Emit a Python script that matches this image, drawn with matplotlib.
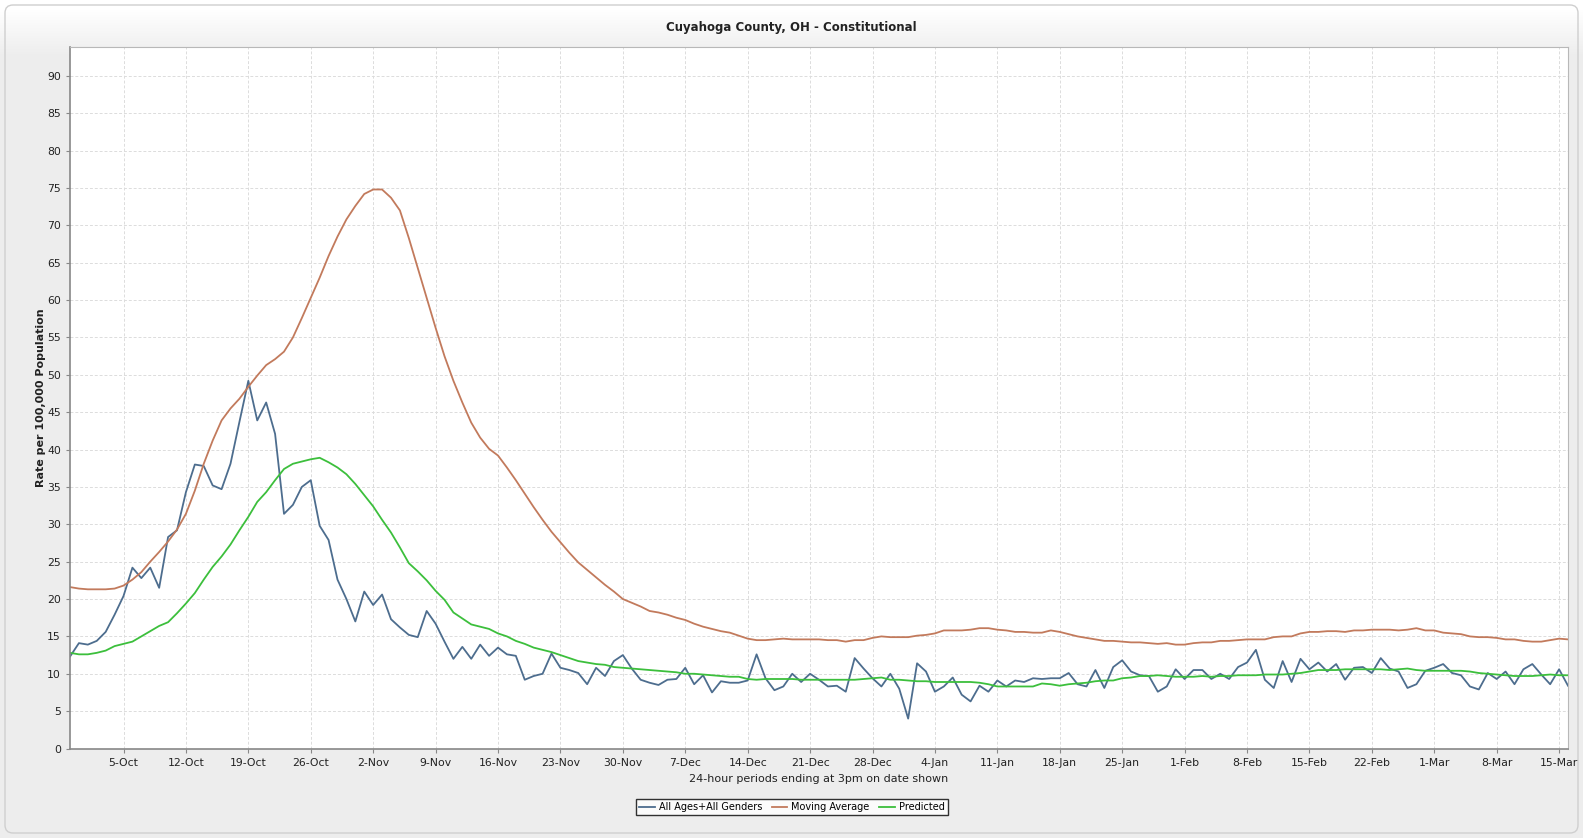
import numpy as np
import pandas as pd
import matplotlib
matplotlib.use("Agg")
import matplotlib.pyplot as plt
from matplotlib.patches import FancyBboxPatch

# daily values, 29-Sep-2020 .. 16-Mar-2021
start_date = "2020-09-29"

all_ages = [
    12.3, 14.1, 13.9, 14.4, 15.6, 17.9, 20.4, 24.2, 22.8, 24.2,
    21.5, 28.3, 29.2, 34.3, 38.0, 37.8, 35.2, 34.7, 38.1, 43.7,
    49.2, 43.9, 46.3, 42.1, 31.4, 32.6, 35.0, 35.9, 29.8, 27.9,
    22.6, 20.0, 17.0, 21.0, 19.2, 20.6, 17.3, 16.2, 15.2, 14.9,
    18.4, 16.7, 14.3, 12.0, 13.6, 12.0, 13.9, 12.4, 13.5, 12.6,
    12.4, 9.2, 9.7, 10.0, 12.7, 10.8, 10.5, 10.1, 8.6, 10.8,
    9.7, 11.7, 12.5, 10.7, 9.2, 8.8, 8.5, 9.2, 9.3, 10.8,
    8.6, 9.8, 7.5, 9.0, 8.8, 8.8, 9.1, 12.6, 9.4, 7.8,
    8.3, 10.0, 8.9, 10.0, 9.2, 8.3, 8.4, 7.6, 12.1, 10.7,
    9.4, 8.3, 10.0, 8.0, 4.0, 11.4, 10.3, 7.6, 8.3, 9.5,
    7.2, 6.3, 8.4, 7.6, 9.1, 8.3, 9.1, 8.9, 9.4, 9.3,
    9.4, 9.4, 10.1, 8.6, 8.3, 10.5, 8.1, 10.9, 11.8, 10.3,
    9.8, 9.7, 7.6, 8.3, 10.6, 9.3, 10.5, 10.5, 9.3, 10.0,
    9.3, 10.9, 11.5, 13.2, 9.2, 8.1, 11.7, 8.9, 12.0, 10.6,
    11.5, 10.3, 11.3, 9.2, 10.8, 10.9, 10.1, 12.1, 10.7, 10.3,
    8.1, 8.6, 10.4, 10.8, 11.3, 10.1, 9.8, 8.3, 7.9, 10.1,
    9.3, 10.3, 8.6, 10.6, 11.3, 9.9, 8.6, 10.6, 8.4,
]

moving_avg = [
    21.6, 21.4, 21.3, 21.3, 21.3, 21.4, 21.8, 22.6, 23.6, 25.0,
    26.3, 27.7, 29.3, 31.4, 34.5, 38.1, 41.2, 43.9, 45.5, 46.8,
    48.4, 49.9, 51.3, 52.1, 53.1, 55.0, 57.6, 60.3, 63.0, 65.9,
    68.5, 70.8, 72.6, 74.2, 74.8, 74.8, 73.7, 72.0, 68.3, 64.3,
    60.3, 56.3, 52.5, 49.2, 46.3, 43.6, 41.6, 40.1, 39.2, 37.6,
    35.9, 34.1, 32.3, 30.6, 29.0, 27.6, 26.2, 24.9, 23.9, 22.9,
    21.9, 21.0, 20.0, 19.5, 19.0, 18.4, 18.2, 17.9, 17.5, 17.2,
    16.7, 16.3, 16.0, 15.7, 15.5, 15.1, 14.7, 14.5, 14.5, 14.6,
    14.7, 14.6, 14.6, 14.6, 14.6, 14.5, 14.5, 14.3, 14.5, 14.5,
    14.8, 15.0, 14.9, 14.9, 14.9, 15.1, 15.2, 15.4, 15.8, 15.8,
    15.8, 15.9, 16.1, 16.1, 15.9, 15.8, 15.6, 15.6, 15.5, 15.5,
    15.8, 15.6, 15.3, 15.0, 14.8, 14.6, 14.4, 14.4, 14.3, 14.2,
    14.2, 14.1, 14.0, 14.1, 13.9, 13.9, 14.1, 14.2, 14.2, 14.4,
    14.4, 14.5, 14.6, 14.6, 14.6, 14.9, 15.0, 15.0, 15.4, 15.6,
    15.6, 15.7, 15.7, 15.6, 15.8, 15.8, 15.9, 15.9, 15.9, 15.8,
    15.9, 16.1, 15.8, 15.8, 15.5, 15.4, 15.3, 15.0, 14.9, 14.9,
    14.8, 14.6, 14.6, 14.4, 14.3, 14.3, 14.5, 14.7, 14.6,
]

predicted = [
    12.8, 12.6, 12.6, 12.8, 13.1, 13.7, 14.0, 14.3, 15.0, 15.7,
    16.4, 16.9, 18.1, 19.4, 20.8, 22.6, 24.3, 25.7, 27.3, 29.2,
    31.0, 33.0, 34.3, 35.9, 37.4, 38.1, 38.4, 38.7, 38.9, 38.3,
    37.6, 36.7, 35.4, 33.9, 32.4, 30.6, 28.9, 26.9, 24.8, 23.7,
    22.5, 21.1, 19.9, 18.2, 17.4, 16.6, 16.3, 16.0, 15.4, 15.0,
    14.4, 14.0, 13.5, 13.2, 12.9, 12.5, 12.1, 11.7, 11.5, 11.3,
    11.2, 10.9, 10.8, 10.7, 10.6, 10.5, 10.4, 10.3, 10.2, 10.0,
    10.0, 9.9, 9.8, 9.7, 9.6, 9.6, 9.3, 9.2, 9.3, 9.3,
    9.3, 9.3, 9.2, 9.2, 9.2, 9.2, 9.2, 9.2, 9.2, 9.3,
    9.4, 9.5, 9.2, 9.2, 9.1, 9.0, 9.0, 8.9, 8.9, 8.9,
    8.9, 8.9, 8.8, 8.6, 8.3, 8.3, 8.3, 8.3, 8.3, 8.7,
    8.6, 8.4, 8.6, 8.7, 8.8, 9.0, 9.1, 9.1, 9.4, 9.5,
    9.7, 9.7, 9.8, 9.7, 9.6, 9.6, 9.6, 9.7, 9.6, 9.7,
    9.7, 9.8, 9.8, 9.8, 9.9, 9.9, 9.9, 10.0, 10.1, 10.3,
    10.5, 10.5, 10.5, 10.6, 10.6, 10.6, 10.6, 10.6, 10.5, 10.6,
    10.7, 10.5, 10.4, 10.4, 10.4, 10.4, 10.4, 10.3, 10.1, 10.0,
    9.9, 9.8, 9.7, 9.7, 9.7, 9.8, 9.9, 9.8, 9.8,
]

series_labels = ["All Ages+All Genders", "Moving Average", "Predicted"]
series_colors = ["#4d6d8e", "#c27a5c", "#3cbf3c"]
title = "Cuyahoga County, OH - Constitutional"
x_label = "24-hour periods ending at 3pm on date shown"
y_label = "Rate per 100,000 Population"

dates = pd.date_range(start_date, periods=len(all_ages), freq="D")
tick_dates = pd.date_range("2020-10-05", "2021-03-15", freq="7D")

W, H = 1583, 838
fig = plt.figure(figsize=(W / 100, H / 100), dpi=100, facecolor="white")

# panel background: gradient at the top, light gray below
bg = fig.add_axes([0, 0, 1, 1], zorder=-10)
bg.set_axis_off()
grad = np.ones((H, 1))
fade = np.clip((np.arange(H) - 10) / 45.0, 0, 1)
grad[:, 0] = 1.0 - fade * (1.0 - 0.933)
bg.imshow(np.dstack([grad, grad, grad]), aspect="auto", extent=[0, W, H, 0])
bg.set_xlim(0, W)
bg.set_ylim(H, 0)
bg.add_patch(FancyBboxPatch((5, 5), W - 10, H - 10,
                            boxstyle="round,pad=0,rounding_size=8",
                            facecolor="none", edgecolor="#cfcfcf", lw=1.0))

ax = fig.add_axes([70 / W, 1 - 748.5 / H, (1568 - 70) / W, (748.5 - 47.5) / H])
ax.set_facecolor("white")

for vals, lab, col in zip([all_ages, moving_avg, predicted], series_labels, series_colors):
    ax.plot(dates, vals, color=col, lw=1.3, label=lab)

ax.set_xlim(dates[0], dates[-1])
ax.set_ylim(0, 93.8)
ax.set_yticks(np.arange(0, 95, 5))
ax.set_xticks(tick_dates)
ax.set_xticklabels([f"{d.day}-{d:%b}" for d in tick_dates])
ax.tick_params(axis="both", labelsize=7.8, length=3, color="#888888", labelcolor="#222222")

ax.grid(True, color="#dcdcdc", lw=0.7, ls=(0, (3, 2)))
ax.set_axisbelow(True)
for side in ["top", "right"]:
    ax.spines[side].set_color("#b8b8b8")
for side in ["left", "bottom"]:
    ax.spines[side].set_color("#888888")
    ax.spines[side].set_linewidth(1.2)

ax.set_xlabel(x_label, fontsize=8, labelpad=5, color="#222222")
ax.set_ylabel(y_label, fontsize=8, fontweight="bold", labelpad=1, color="#222222")

fig.text(791 / W, 1 - 27 / H, title, ha="center", va="center",
         fontsize=8.5, fontweight="bold", color="#222222")

leg = fig.legend(loc="center", bbox_to_anchor=(792 / W, 1 - 807 / H), ncol=3,
                 fontsize=7, frameon=True, fancybox=False, handlelength=1.6,
                 handletextpad=0.4, columnspacing=1.0, borderpad=0.35)
leg.get_frame().set_edgecolor("black")
leg.get_frame().set_linewidth(1.0)

fig.savefig("out.png", dpi=100, facecolor=fig.get_facecolor())
